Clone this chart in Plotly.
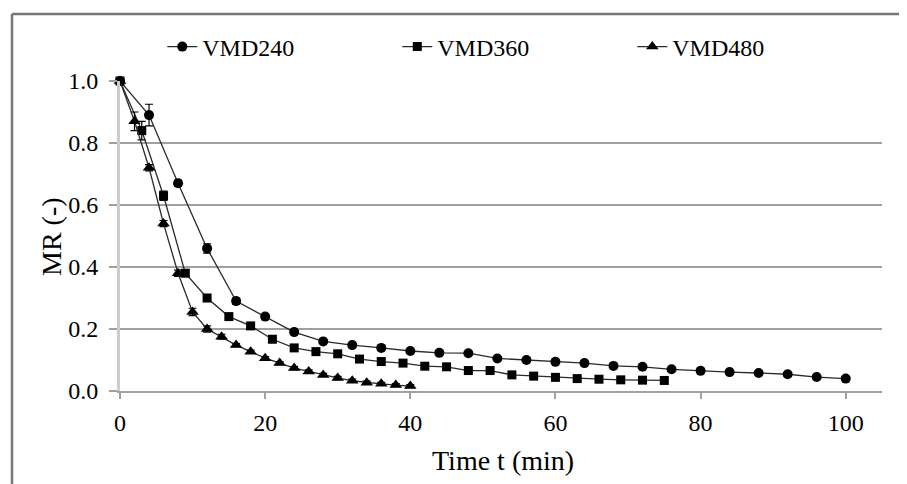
import plotly.graph_objects as go

# ---- data ----
t240 = [0, 4, 8, 12, 16, 20, 24, 28, 32, 36, 40, 44, 48, 52, 56, 60, 64, 68, 72, 76, 80, 84, 88, 92, 96, 100]
mr240 = [1.00, 0.89, 0.67, 0.46, 0.29, 0.24, 0.19, 0.16, 0.148, 0.139, 0.129, 0.123, 0.122, 0.105, 0.10, 0.094,
         0.09, 0.081, 0.078, 0.07, 0.065, 0.061, 0.058, 0.054, 0.045, 0.04]
err240 = [0, 0.035, 0.01, 0.015, 0.01, 0.005, 0.005, 0.005, 0.005, 0.005, 0.005, 0.005, 0.005, 0.005, 0.005, 0.005,
          0.005, 0.005, 0.005, 0.005, 0.005, 0.005, 0.005, 0.005, 0.005, 0.005]

t360 = [0, 3, 6, 9, 12, 15, 18, 21, 24, 27, 30, 33, 36, 39, 42, 45, 48, 51, 54, 57, 60, 63, 66, 69, 72, 75]
mr360 = [1.00, 0.84, 0.63, 0.38, 0.30, 0.24, 0.21, 0.167, 0.139, 0.127, 0.12, 0.103, 0.095, 0.09, 0.08, 0.078,
         0.066, 0.066, 0.052, 0.048, 0.044, 0.04, 0.038, 0.036, 0.035, 0.034]
err360 = [0, 0.03, 0.015, 0.01, 0.01, 0.005, 0.005, 0.005, 0.005, 0.005, 0.005, 0.005, 0.005, 0.005, 0.005, 0.005,
          0.005, 0.005, 0.005, 0.005, 0.005, 0.005, 0.005, 0.005, 0.005, 0.005]

t480 = [0, 2, 4, 6, 8, 10, 12, 14, 16, 18, 20, 22, 24, 26, 28, 30, 32, 34, 36, 38, 40]
mr480 = [1.00, 0.87, 0.72, 0.54, 0.38, 0.255, 0.20, 0.175, 0.148, 0.127, 0.106, 0.09, 0.074, 0.063, 0.052,
         0.042, 0.033, 0.027, 0.023, 0.019, 0.016]
err480 = [0, 0.03, 0.01, 0.01, 0.01, 0.012, 0.01, 0.008, 0.005, 0.005, 0.005, 0.005, 0.005, 0.005, 0.005,
          0.005, 0.005, 0.005, 0.005, 0.005, 0.005]

series = [
    ("VMD240", t240, mr240, err240, "circle", 10),
    ("VMD360", t360, mr360, err360, "square", 9),
    ("VMD480", t480, mr480, err480, "triangle-up", 11),
]

x_title = "Time t (min)"
y_title = "MR (-)"

FONT = "Liberation Serif"
GRID = "#a0a0a0"

# plot-area box in screen pixels (page body adds an 8px offset)
O = 8
PL, PR, PT, PB = 120, 882, 81, 391
PW, PH = PR - PL, PB - PT
W, H = 907 - O, 484 - O

fig = go.Figure()
for name, t, mr, err, sym, size in series:
    fig.add_trace(go.Scatter(
        x=t, y=mr, name=name, mode="lines+markers",
        line=dict(color="#2a2a2a", width=1.3),
        marker=dict(symbol=sym, size=size, color="black"),
        error_y=dict(type="data", array=err, visible=True, color="black", thickness=1.2, width=4),
        cliponaxis=False,
    ))

def px(x):
    return (x - PL) / PW

def py(y):
    return (PB - y) / PH

# outer chart frame (cropped in the reference at right/bottom)
fig.add_shape(type="line", xref="paper", yref="paper", x0=px(12), x1=px(12), y0=py(484), y1=py(14),
              line=dict(color="#767676", width=2.5))
fig.add_shape(type="line", xref="paper", yref="paper", x0=px(12), x1=px(907), y0=py(14), y1=py(14),
              line=dict(color="#767676", width=2.5))

# axis titles
fig.add_annotation(text=x_title, xref="paper", yref="paper", x=px(503), y=py(460),
                   showarrow=False, xanchor="center", yanchor="middle",
                   font=dict(family=FONT, size=28, color="black"))
fig.add_annotation(text=y_title, xref="paper", yref="paper", x=px(52), y=py(237),
                   showarrow=False, xanchor="center", yanchor="middle", textangle=-90,
                   font=dict(family=FONT, size=28, color="black"))

fig.update_layout(
    width=W, height=H,
    margin=dict(l=PL - O, r=907 - PR, t=PT - O, b=484 - PB, autoexpand=False),
    paper_bgcolor="white", plot_bgcolor="white",
    font=dict(family=FONT, size=24, color="black"),
    showlegend=True,
    legend=dict(orientation="h", x=0.0555, y=py(47), xanchor="left", yanchor="middle",
                font=dict(family=FONT, size=24, color="black"),
                entrywidth=190, entrywidthmode="pixels", bgcolor="rgba(0,0,0,0)"),
    xaxis=dict(range=[0, 105], tickvals=[0, 20, 40, 60, 80, 100], showgrid=False, zeroline=False,
               showline=True, linecolor=GRID, linewidth=2, ticks="outside", ticklen=6, tickwidth=2,
               tickcolor=GRID, tickfont=dict(size=24), ticklabelstandoff=3, automargin=False),
    yaxis=dict(range=[0, 1.0], tickvals=[0, 0.2, 0.4, 0.6, 0.8, 1.0], tickformat=".1f",
               showgrid=True, gridcolor=GRID, gridwidth=2, zeroline=False,
               showline=True, linecolor="#cccccc", linewidth=3, ticks="outside", ticklen=8, tickwidth=2,
               tickcolor=GRID, tickfont=dict(size=24), ticklabelstandoff=6, automargin=False),
)

fig.write_html("out.html")
